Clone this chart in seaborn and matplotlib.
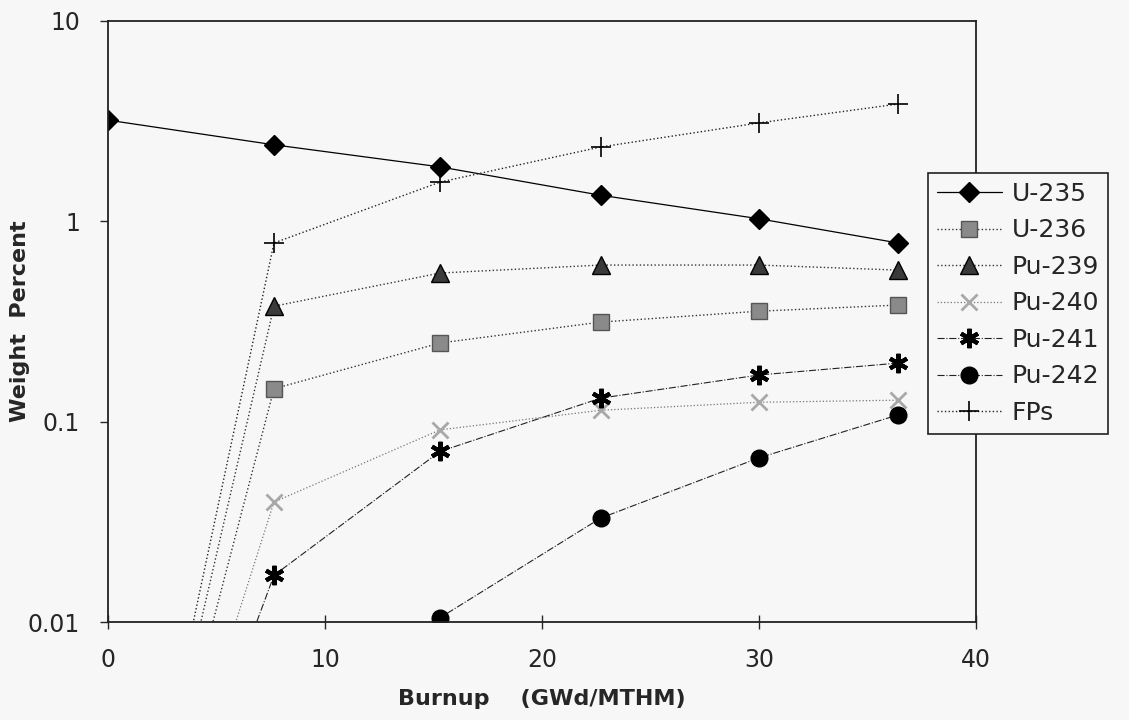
import numpy as np
import pandas as pd
import matplotlib.pyplot as plt
import seaborn as sns

# burnup points (GWd/MTHM)
burnup = [0, 7.65, 15.3, 22.7, 30.0, 36.4]

# weight percent (first points sit below the axis)
u235 = [3.2, 2.41, 1.87, 1.35, 1.03, 0.78]
u236 = [1e-4, 0.146, 0.247, 0.314, 0.356, 0.382]
pu239 = [1e-4, 0.377, 0.552, 0.605, 0.605, 0.571]
pu240 = [1e-4, 0.0397, 0.091, 0.114, 0.125, 0.128]
pu241 = [1e-4, 0.0171, 0.071, 0.131, 0.171, 0.196]
pu242 = [1e-4, 0.001, 0.0105, 0.033, 0.066, 0.108]
fps = [1e-4, 0.78, 1.57, 2.35, 3.10, 3.85]

names = ["U-235", "U-236", "Pu-239", "Pu-240", "Pu-241", "Pu-242", "FPs"]
series = [u235, u236, pu239, pu240, pu241, pu242, fps]

y_ticks = [0.01, 0.1, 1, 10]
y_tick_labels = ["0.01", "0.1", "1", "10"]
x_ticks = [0, 10, 20, 30, 40]

bg = "#f7f7f7"
sns.set_style("white")
plt.rcParams['font.family'] = ['DejaVu Sans']

# marker / line style per series
styles = {
    "U-235": dict(marker="D", ms=10, mfc="black", mec="black", mew=1, ls="-", lw=0.9, color="black"),
    "U-236": dict(marker="s", ms=11, mfc="#8a8a8a", mec="#555555", mew=1, ls=":", lw=1.0, color="#333333"),
    "Pu-239": dict(marker="^", ms=13, mfc="#3a3a3a", mec="black", mew=1, ls=":", lw=1.0, color="#333333"),
    "Pu-240": dict(marker="x", ms=12, mfc="none", mec="#a8a8a8", mew=2, ls=":", lw=0.9, color="#777777"),
    "Pu-241": dict(marker=(6, 2, 0), ms=14, mfc="black", mec="black", mew=3, ls="-.", lw=0.8, color="#222222"),
    "Pu-242": dict(marker="o", ms=12, mfc="black", mec="black", mew=1, ls="-.", lw=0.8, color="#222222"),
    "FPs": dict(marker="+", ms=15, mfc="black", mec="black", mew=1.2, ls=":", lw=1.0, color="#222222"),
}

fig = plt.figure(figsize=(11.29, 7.2), dpi=100, facecolor=bg)
ax = fig.add_axes([108 / 1129, 1 - 622 / 720, (976 - 108) / 1129, (622 - 21) / 720])
ax.set_facecolor(bg)
ax.set_yscale("log")

for name, vals in zip(names, series):
    df = pd.DataFrame({"burnup": burnup, "wt": vals})
    st = styles[name]
    sns.lineplot(data=df, x="burnup", y="wt", ax=ax, label=name, sort=False,
                 color=st["color"], linestyle=st["ls"], linewidth=st["lw"],
                 marker=st["marker"], markersize=st["ms"],
                 markerfacecolor=st["mfc"], markeredgecolor=st["mec"],
                 markeredgewidth=st["mew"])

ax.set_xlim(0, 40)
ax.set_ylim(0.01, 10)
ax.set_xticks(x_ticks)
ax.set_xticklabels([str(t) for t in x_ticks])
ax.set_yticks(y_ticks)
ax.set_yticklabels(y_tick_labels)
ax.minorticks_off()
ax.tick_params(axis="y", direction="out", length=6, width=1, pad=14, labelsize=17, left=True)
ax.tick_params(axis="x", direction="inout", length=10, width=1, pad=14, labelsize=17, bottom=True)

for sp in ax.spines.values():
    sp.set_visible(True)
    sp.set_color("#222222")
    sp.set_linewidth(1.3)

ax.set_xlabel("Burnup    (GWd/MTHM)", fontsize=16, fontweight="bold", labelpad=12)
ax.set_ylabel("Weight  Percent", fontsize=16, fontweight="bold")
ax.yaxis.set_label_coords((30 - 108) / 868, 0.5)

leg = ax.legend(loc="upper left", bbox_to_anchor=(928 / 1129, 1 - 173 / 720),
                bbox_transform=fig.transFigure, fontsize=18, frameon=True,
                fancybox=False, framealpha=1, facecolor=bg, edgecolor="#222222",
                handlelength=2.6, handletextpad=0.4, labelspacing=0.5,
                borderpad=0.35, borderaxespad=0)
leg.get_frame().set_linewidth(1.2)
leg.set_zorder(5)

fig.savefig("out.png", dpi=100, facecolor=bg)
